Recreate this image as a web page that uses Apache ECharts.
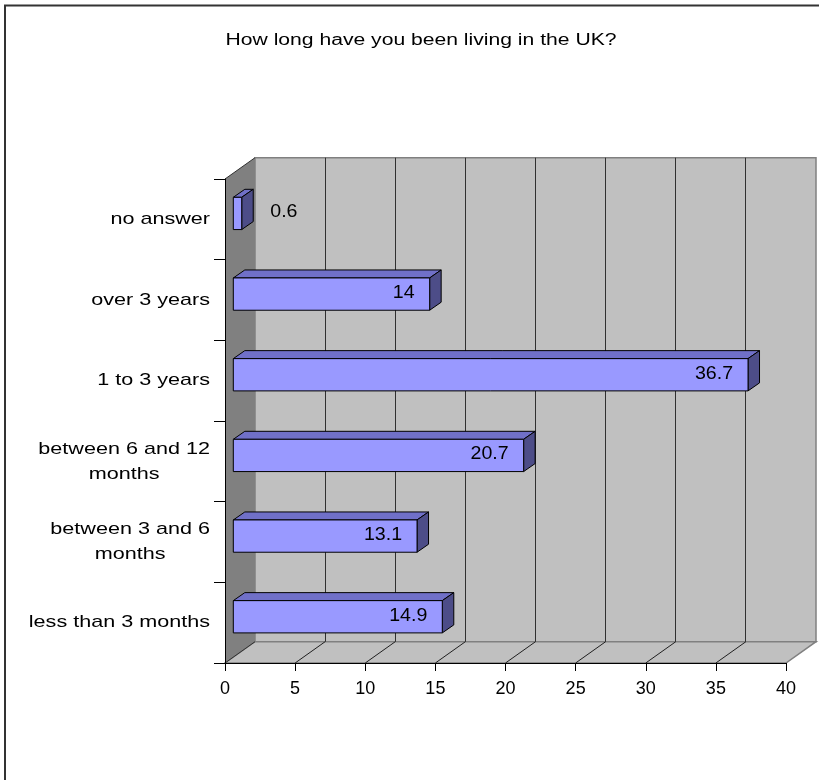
<!DOCTYPE html>
<html>
<head>
<meta charset="utf-8">
<script src="https://cdn.jsdelivr.net/npm/echarts@6/dist/echarts.min.js"></script>
<style>
  html, body { margin: 0; padding: 0; background: #ffffff; }
  #chart { width: 819px; height: 780px; }
</style>
</head>
<body>
<div id="chart"></div>
<script>
// Survey answers: length of stay in the UK (percent of respondents)
const titleText = 'How long have you been living in the UK?';
const categories = [
  'less than 3 months',
  'between 3 and 6\nmonths',
  'between 6 and 12\nmonths',
  '1 to 3 years',
  'over 3 years',
  'no answer'
];
const shares = [14.9, 13.1, 20.7, 36.7, 14, 0.6];
const xTicks = [0, 5, 10, 15, 20, 25, 30, 35, 40];

const FONT = "'Liberation Sans', Arial, Helvetica, sans-serif";

// Oblique "3D" box: offset from the front plane to the back wall
const DEPTH = [30, -21.3];
// Bars sit part-way into the box and have a shallow slab depth
const BAR_FRONT = 0.277;
const BAR_SLAB = [11.5, -8];
const BAR_RATIO = 0.4;

// text is drawn slightly widened
const TITLE_FONT = { size: 16, stretch: 1.32 };
const CAT_FONT = { size: 17, stretch: 1.27 };
const VALUE_FONT = { size: 17.5, stretch: 1.12 };

const measureCtx = document.createElement('canvas').getContext('2d');
function textWidth(str, size) {
  measureCtx.font = size + 'px ' + FONT;
  return measureCtx.measureText(str).width;
}
function crisp(v) { return Math.round(v - 0.5) + 0.5; }

function textEl(str, x, y, f, align) {
  return {
    type: 'text',
    x: x,
    y: y,
    scaleX: f.stretch,
    style: {
      text: str,
      x: 0,
      y: 0,
      font: f.size + 'px ' + FONT,
      fill: '#000000',
      align: align,
      textAlign: align,
      verticalAlign: 'middle',
      textVerticalAlign: 'middle'
    }
  };
}

// back wall, side wall, floor and their gridlines
function renderBox(params, api) {
  const cs = params.coordSys;
  const dx = DEPTH[0], dy = DEPTH[1];
  const L = cs.x, R = cs.x + cs.width, T = cs.y, B = cs.y + cs.height;
  const children = [];
  children.push({
    type: 'polygon',
    shape: { points: [[L + dx, T + dy], [R + dx, T + dy], [R + dx, B + dy], [L + dx, B + dy]] },
    style: { fill: '#c0c0c0', stroke: '#808080', lineWidth: 1.5 }
  });
  children.push({
    type: 'polygon',
    shape: { points: [[L, T], [L + dx, T + dy], [L + dx, B + dy], [L, B]] },
    style: { fill: '#808080' }
  });
  children.push({
    type: 'polygon',
    shape: { points: [[L, B], [R, B], [R + dx, B + dy], [L + dx, B + dy]] },
    style: { fill: '#c0c0c0', stroke: '#808080', lineWidth: 1.5 }
  });
  children.push({
    type: 'line',
    shape: { x1: L, y1: T, x2: L + dx, y2: T + dy },
    style: { stroke: '#303030', lineWidth: 1 }
  });
  children.push({
    type: 'line',
    shape: { x1: L, y1: B, x2: L + dx, y2: B + dy },
    style: { stroke: '#303030', lineWidth: 1 }
  });
  xTicks.forEach(function (t, i) {
    if (i === 0 || i === xTicks.length - 1) return;
    const x = api.coord([t, 0])[0];
    const bx = crisp(x + dx);
    children.push({
      type: 'line',
      shape: { x1: bx, y1: T + dy, x2: bx, y2: B + dy },
      style: { stroke: '#303030', lineWidth: 1 }
    });
    children.push({
      type: 'line',
      shape: { x1: x, y1: B, x2: x + dx, y2: B + dy },
      style: { stroke: '#202020', lineWidth: 1 }
    });
  });
  return { type: 'group', children: children };
}

// one shaded block per answer, with its value label
function renderBar(params, api) {
  const v = api.value(0);
  const c = api.value(1);
  const zero = api.coord([0, c]);
  const end = api.coord([v, c]);
  const band = api.size([0, 1])[1];
  const h = band * BAR_RATIO / 2;
  const ox = DEPTH[0] * BAR_FRONT, oy = DEPTH[1] * BAR_FRONT;
  const x0 = zero[0] + ox, x1 = end[0] + ox, yc = zero[1] + oy;
  const sx = BAR_SLAB[0], sy = BAR_SLAB[1];
  const top = yc - h, bot = yc + h;
  const edge = { stroke: '#000000', lineWidth: 1, lineJoin: 'round' };
  const children = [
    {
      type: 'polygon',
      shape: { points: [[x0, top], [x1, top], [x1 + sx, top + sy], [x0 + sx, top + sy]] },
      style: Object.assign({ fill: '#7070c8' }, edge)
    },
    {
      type: 'polygon',
      shape: { points: [[x1, top], [x1 + sx, top + sy], [x1 + sx, bot + sy], [x1, bot]] },
      style: Object.assign({ fill: '#4d4d88' }, edge)
    },
    {
      type: 'rect',
      shape: { x: x0, y: top, width: x1 - x0, height: bot - top },
      style: Object.assign({ fill: '#9999ff' }, edge)
    }
  ];
  const label = String(v);
  const w = textWidth(label, VALUE_FONT.size) * VALUE_FONT.stretch;
  if (w + 30 < x1 - x0) {
    children.push(textEl(label, x1 - 15, yc - 1, VALUE_FONT, 'right'));
  } else {
    children.push(textEl(label, x1 + sx + 17, yc - 1, VALUE_FONT, 'left'));
  }
  return { type: 'group', children: children };
}

// category names, right-aligned against the axis, lines centred within each name
function renderCategory(params, api) {
  const c = api.value(1);
  const yc = api.coord([0, c])[1];
  const right = params.coordSys.x - 15;
  const lines = categories[c].split('\n');
  let maxW = 0;
  lines.forEach(function (ln) { maxW = Math.max(maxW, textWidth(ln, CAT_FONT.size) * CAT_FONT.stretch); });
  const cx = right - maxW / 2;
  const lineH = 25;
  const children = lines.map(function (ln, i) {
    return textEl(ln, cx, yc + (i - (lines.length - 1) / 2) * lineH, CAT_FONT, 'center');
  });
  return { type: 'group', children: children };
}

const chart = echarts.init(document.getElementById('chart'), null, { renderer: 'canvas' });

chart.setOption({
  backgroundColor: '#ffffff',
  animation: false,
  textStyle: { fontFamily: FONT },
  graphic: [
    {
      type: 'rect',
      silent: true,
      z: 100,
      shape: { x: 5, y: 5.5, width: 1000, height: 1000 },
      style: { fill: 'none', stroke: '#333333', lineWidth: 2 }
    },
    Object.assign(textEl(titleText, 421, 40.5, TITLE_FONT, 'center'), { z: 100 })
  ],
  grid: { left: 225, right: 33, top: 179, bottom: 117, containLabel: false },
  xAxis: {
    type: 'value',
    min: xTicks[0],
    max: xTicks[xTicks.length - 1],
    interval: xTicks[1] - xTicks[0],
    z: 10,
    axisLine: { show: true, lineStyle: { color: '#000000', width: 1 } },
    axisTick: { show: true, length: 8, lineStyle: { color: '#000000', width: 1 } },
    splitLine: { show: false },
    axisLabel: {
      color: '#000000',
      fontFamily: FONT,
      fontSize: 18,
      margin: 17,
      formatter: function (v) { return String(v); }
    }
  },
  yAxis: {
    type: 'category',
    data: categories,
    z: 10,
    axisLine: { show: true, lineStyle: { color: '#000000', width: 1 } },
    axisTick: { show: true, length: 11, lineStyle: { color: '#000000', width: 1 } },
    splitLine: { show: false },
    axisLabel: { show: false }
  },
  series: [
    {
      type: 'custom',
      name: 'box',
      z: 1,
      silent: true,
      renderItem: renderBox,
      data: [[0, 0]],
      encode: { x: 0, y: 1 }
    },
    {
      type: 'custom',
      name: 'share',
      z: 3,
      renderItem: renderBar,
      data: shares.map(function (v, i) { return [v, i]; }),
      encode: { x: 0, y: 1 }
    },
    {
      type: 'custom',
      name: 'names',
      z: 4,
      silent: true,
      renderItem: renderCategory,
      data: categories.map(function (n, i) { return [0, i]; }),
      encode: { x: 0, y: 1 }
    }
  ]
});
</script>
</body>
</html>
